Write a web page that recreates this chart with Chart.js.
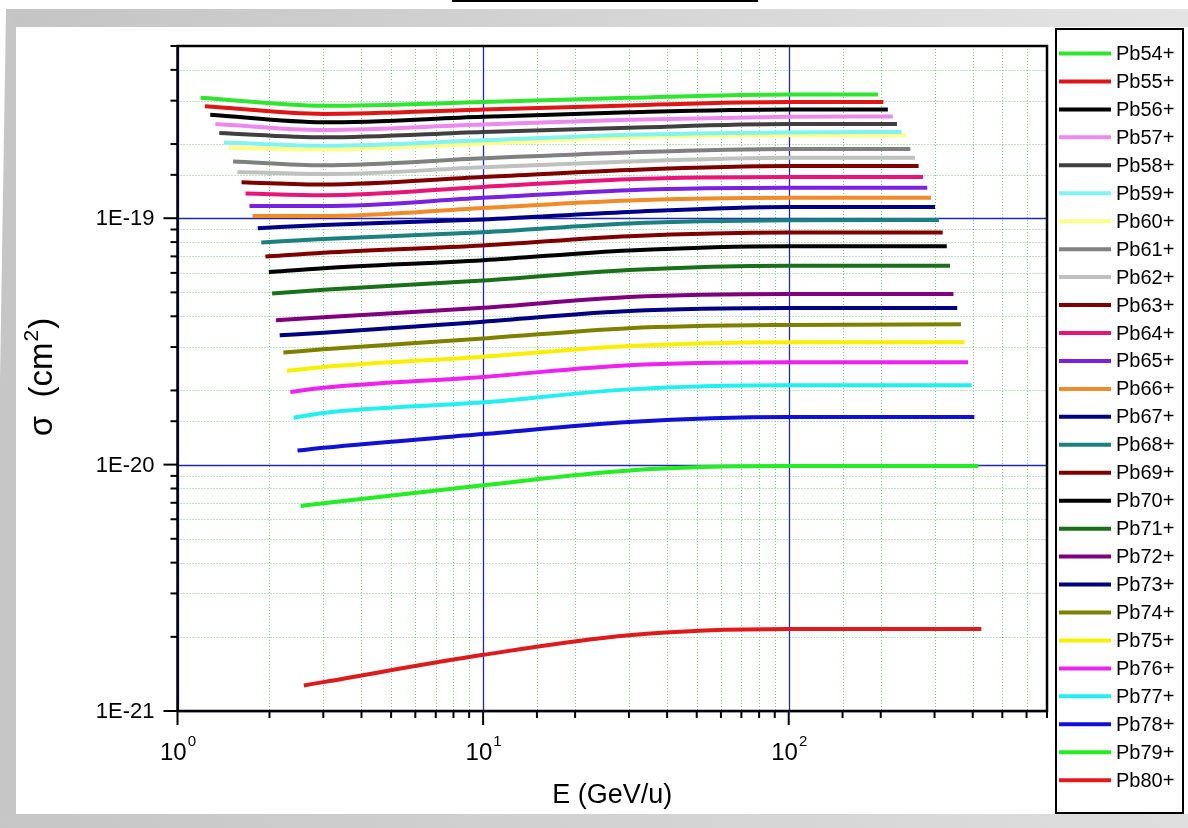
<!DOCTYPE html>
<html>
<head>
<meta charset="utf-8">
<script src="https://cdn.jsdelivr.net/npm/chart.js@4/dist/chart.umd.min.js"></script>
<style>
  html, body { margin: 0; padding: 0; background: #fff; }
  canvas { display: block; }
</style>
</head>
<body>
<canvas id="chart" width="1188" height="828" style="width:1188px;height:828px"></canvas>
<script>
// charge states, one curve each
const labels = ['Pb54+', 'Pb55+', 'Pb56+', 'Pb57+', 'Pb58+', 'Pb59+', 'Pb60+', 'Pb61+', 'Pb62+',
  'Pb63+', 'Pb64+', 'Pb65+', 'Pb66+', 'Pb67+', 'Pb68+', 'Pb69+', 'Pb70+', 'Pb71+', 'Pb72+',
  'Pb73+', 'Pb74+', 'Pb75+', 'Pb76+', 'Pb77+', 'Pb78+', 'Pb79+', 'Pb80+'];

const colors = ['#2ee62e', '#e01616', '#000000', '#ee88ee', '#404040', '#80f4f2', '#ffff88', '#808080', '#c0c0c0',
  '#800000', '#ea1478', '#7a20e0', '#f28a28', '#000088', '#1a8080', '#800000', '#000000', '#187018', '#800080',
  '#000080', '#808000', '#f8f000', '#f020f0', '#20f0f0', '#1010d8', '#22ee22', '#e01a1a'];

// first and last energy of each curve (GeV/u)
const eStart = [1.19, 1.23, 1.28, 1.33, 1.37, 1.42, 1.47, 1.52, 1.57, 1.62, 1.67, 1.72, 1.76, 1.83,
  1.88, 1.94, 1.99, 2.04, 2.10, 2.16, 2.22, 2.28, 2.34, 2.40, 2.47, 2.53, 2.59];
const eEnd = [196, 204, 211, 219, 226, 234, 242, 250, 259, 266, 275, 284, 292, 301,
  310, 319, 329, 337, 346, 356, 366, 376, 386, 397, 405, 417, 427];
// intermediate energies where every curve was read
const eMid = [3, 10, 30, 100];

// cross sections in units of 1e-19 cm^2 : [at eStart, 3, 10, 30, 100, at eEnd]
const SIGMA_UNIT = 1e-19;
const sigma = [
  [3.08, 2.86, 2.96, 3.08, 3.18, 3.18],
  [2.85, 2.65, 2.76, 2.87, 2.96, 2.96],
  [2.63, 2.45, 2.58, 2.69, 2.76, 2.76],
  [2.41, 2.28, 2.40, 2.51, 2.58, 2.59],
  [2.22, 2.13, 2.24, 2.33, 2.41, 2.41],
  [2.03, 1.97, 2.07, 2.18, 2.23, 2.24],
  [1.93, 1.90, 2.01, 2.13, 2.17, 2.17],
  [1.70, 1.64, 1.75, 1.85, 1.91, 1.91],
  [1.54, 1.51, 1.61, 1.70, 1.76, 1.76],
  [1.40, 1.37, 1.47, 1.57, 1.63, 1.63],
  [1.26, 1.24, 1.34, 1.44, 1.47, 1.47],
  [1.12, 1.12, 1.21, 1.30, 1.33, 1.33],
  [1.02, 1.02, 1.10, 1.18, 1.21, 1.21],
  [0.911, 0.939, 0.988, 1.06, 1.11, 1.11],
  [0.797, 0.824, 0.877, 0.952, 0.981, 0.984],
  [0.699, 0.724, 0.775, 0.845, 0.875, 0.875],
  [0.605, 0.627, 0.675, 0.740, 0.770, 0.770],
  [0.495, 0.513, 0.559, 0.617, 0.642, 0.642],
  [0.385, 0.396, 0.433, 0.479, 0.493, 0.493],
  [0.335, 0.343, 0.380, 0.420, 0.432, 0.432],
  [0.285, 0.294, 0.325, 0.358, 0.369, 0.371],
  [0.240, 0.249, 0.274, 0.303, 0.314, 0.314],
  [0.197, 0.205, 0.227, 0.253, 0.260, 0.260],
  [0.155, 0.162, 0.179, 0.202, 0.210, 0.210],
  [0.114, 0.117, 0.133, 0.149, 0.156, 0.156],
  [0.0679, 0.0697, 0.0824, 0.0947, 0.0986, 0.0986],
  [0.0127, 0.0131, 0.0169, 0.0203, 0.0215, 0.0215]
];

const FONT = '"Liberation Sans", Arial, sans-serif';

function isDecade(v) {
  const l = Math.log10(v);
  return Math.abs(l - Math.round(l)) < 1e-6;
}

// build the datasets
const datasets = labels.map((name, i) => {
  const xs = [eStart[i], ...eMid, eEnd[i]];
  return {
    label: name,
    data: xs.map((x, k) => ({ x: x, y: sigma[i][k] * SIGMA_UNIT })),
    borderColor: colors[i],
    backgroundColor: colors[i],
    borderWidth: 4,
    pointRadius: 0,
    showLine: true,
    cubicInterpolationMode: 'monotone',
    fill: false
  };
});

// frame, grid, ticks, labels and legend in the Origin look
const decorPlugin = {
  id: 'decor',
  beforeDraw(chart) {
    const c = chart.ctx;
    const W = chart.width, H = chart.height;
    c.save();
    c.fillStyle = '#fff';
    c.fillRect(0, 0, W, H);
    // top band
    let g = c.createLinearGradient(0, 0, W, 0);
    g.addColorStop(0, '#c4c4c4');
    g.addColorStop(1, '#e4e4e4');
    c.fillStyle = g;
    c.fillRect(6, 9, W - 6, 18);
    // left strip
    c.fillStyle = '#c6c6c6';
    c.beginPath();
    c.moveTo(6, 9); c.lineTo(16, 27); c.lineTo(16, 814); c.lineTo(0, 814); c.lineTo(0, 380);
    c.closePath();
    c.fill();
    // bottom band
    g = c.createLinearGradient(0, 0, W, 0);
    g.addColorStop(0, '#c6c6c6');
    g.addColorStop(1, '#dedede');
    c.fillStyle = g;
    c.fillRect(0, 814, W, H - 814);
    // clipped title box edge at the top
    c.fillStyle = '#000';
    c.fillRect(452, 0, 306, 2);

    // grid
    const a = chart.chartArea;
    const xs = chart.scales.x, ys = chart.scales.y;
    c.lineWidth = 1;
    c.setLineDash([1, 2]);
    c.strokeStyle = '#7cc87c';
    xs.ticks.forEach(t => {
      if (isDecade(t.value)) return;
      const px = Math.round(xs.getPixelForValue(t.value)) + 0.5;
      c.beginPath(); c.moveTo(px, a.top); c.lineTo(px, a.bottom); c.stroke();
    });
    ys.ticks.forEach(t => {
      if (isDecade(t.value)) return;
      const py = Math.round(ys.getPixelForValue(t.value)) + 0.5;
      c.beginPath(); c.moveTo(a.left, py); c.lineTo(a.right, py); c.stroke();
    });
    c.setLineDash([]);
    c.strokeStyle = '#2424b8';
    c.lineWidth = 1.3;
    xs.ticks.forEach(t => {
      if (!isDecade(t.value)) return;
      const px = Math.round(xs.getPixelForValue(t.value)) + 0.5;
      c.beginPath(); c.moveTo(px, a.top); c.lineTo(px, a.bottom); c.stroke();
    });
    ys.ticks.forEach(t => {
      if (!isDecade(t.value)) return;
      const py = Math.round(ys.getPixelForValue(t.value)) + 0.5;
      c.beginPath(); c.moveTo(a.left, py); c.lineTo(a.right, py); c.stroke();
    });
    c.restore();
  },
  afterDatasetsDraw(chart) {
    const c = chart.ctx;
    const a = chart.chartArea;
    const xs = chart.scales.x, ys = chart.scales.y;
    c.save();
    // axis box
    c.strokeStyle = '#000';
    c.lineWidth = 2.5;
    c.strokeRect(a.left, a.top, a.right - a.left, a.bottom - a.top);

    // ticks
    c.lineWidth = 2;
    xs.ticks.forEach(t => {
      const px = xs.getPixelForValue(t.value);
      const len = isDecade(t.value) ? 14 : 7;
      c.beginPath(); c.moveTo(px, a.bottom); c.lineTo(px, a.bottom + len); c.stroke();
    });
    ys.ticks.forEach(t => {
      const py = ys.getPixelForValue(t.value);
      const len = isDecade(t.value) ? 14 : 7;
      c.beginPath(); c.moveTo(a.left, py); c.lineTo(a.left - len, py); c.stroke();
    });

    // tick labels
    c.fillStyle = '#000';
    c.font = '22px ' + FONT;
    c.textAlign = 'right';
    c.textBaseline = 'middle';
    ys.ticks.forEach(t => {
      if (!isDecade(t.value)) return;
      const py = ys.getPixelForValue(t.value);
      c.fillText('1E' + Math.round(Math.log10(t.value)), a.left - 23, py + 1);
    });
    c.textBaseline = 'alphabetic';
    c.textAlign = 'left';
    xs.ticks.forEach(t => {
      if (!isDecade(t.value)) return;
      const px = xs.getPixelForValue(t.value);
      const exp = String(Math.round(Math.log10(t.value)));
      c.font = '24px ' + FONT;
      const w1 = c.measureText('10').width;
      c.font = '15px ' + FONT;
      const w2 = c.measureText(exp).width;
      const x0 = px - (w1 + w2) / 2;
      c.font = '24px ' + FONT;
      c.fillText('10', x0, 760);
      c.font = '15px ' + FONT;
      c.fillText(exp, x0 + w1 + 1, 746);
    });

    // axis titles
    c.font = '27px ' + FONT;
    c.textAlign = 'center';
    c.fillText('E (GeV/u)', (a.left + a.right) / 2, 803);

    c.save();
    c.translate(52, 378);
    c.rotate(-Math.PI / 2);
    c.font = '33px ' + FONT;
    const main = '\u03c3  (cm';
    const wMain = c.measureText(main).width;
    c.font = '21px ' + FONT;
    const wSup = c.measureText('2').width;
    c.font = '33px ' + FONT;
    const wClose = c.measureText(')').width;
    let x = -(wMain + wSup + wClose) / 2;
    c.textAlign = 'left';
    c.fillText(main, x, 0);
    x += wMain;
    c.font = '21px ' + FONT;
    c.fillText('2', x + 1, -14);
    x += wSup + 2;
    c.font = '33px ' + FONT;
    c.fillText(')', x, 0);
    c.restore();

    // legend
    c.lineWidth = 2;
    c.strokeStyle = '#000';
    c.fillStyle = '#fff';
    c.fillRect(1056, 29, 127, 784);
    c.strokeRect(1056, 29, 127, 784);
    c.font = '20px ' + FONT;
    c.textAlign = 'left';
    c.textBaseline = 'middle';
    chart.data.datasets.forEach((ds, i) => {
      const y = 53.5 + i * 27.95;
      c.strokeStyle = ds.borderColor;
      c.lineWidth = 4;
      c.beginPath(); c.moveTo(1059, y); c.lineTo(1111, y); c.stroke();
      c.fillStyle = '#000';
      c.fillText(ds.label, 1116, y + 1);
    });
    c.restore();
  }
};

new Chart(document.getElementById('chart').getContext('2d'), {
  type: 'scatter',
  data: { datasets: datasets },
  options: {
    responsive: false,
    animation: false,
    devicePixelRatio: 1,
    layout: { padding: { left: 177.5, top: 46, right: 141, bottom: 117 } },
    scales: {
      x: { type: 'logarithmic', min: 1, max: 700, display: false },
      y: { type: 'logarithmic', min: 1e-21, max: 5e-19, display: false }
    },
    plugins: {
      legend: { display: false },
      tooltip: { enabled: false }
    }
  },
  plugins: [decorPlugin]
});
</script>
</body>
</html>
